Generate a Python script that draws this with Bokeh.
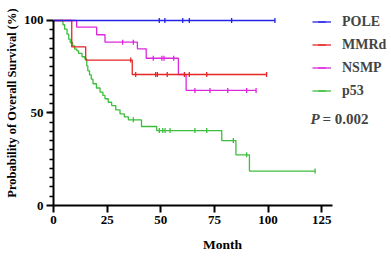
import numpy as np
from bokeh.plotting import figure
from bokeh.models import Range1d, FixedTicker, Legend, LegendItem, Label
from bokeh.embed import file_html
from bokeh.resources import INLINE

# ---- data ----
groups = ["POLE", "MMRd", "NSMP", "p53"]
colors = ["#2424e8", "#e62626", "#dc28dc", "#3cbe3c"]
x_ticks = [0, 25, 50, 75, 100, 125]
y_ticks = [0, 50, 100]

pole_event_t = []
pole_event_s = []
pole_cens_t = [49.3, 51.9, 60.2, 63.3, 83.0, 103.2]

mmrd_event_t = [8.5, 15.0, 36.7]
mmrd_event_s = [85.7, 78.6, 70.8]
mmrd_cens_t = [36.0, 38.3, 47.6, 48.4, 53.0, 61.0, 63.3, 71.4, 99.3]

nsmp_event_t = [10.8, 20.1, 24.0, 39.1, 43.2, 58.2, 61.8]
nsmp_event_s = [96.4, 92.3, 88.3, 84.7, 79.6, 70.8, 62.2]
nsmp_cens_t = [32.2, 37.2, 46.5, 50.5, 51.5, 56.0, 65.9, 72.9, 81.2, 90.0, 94.4]

p53_event_t = [4.4, 5.2, 6.3, 7.1, 7.8, 8.9, 9.9, 10.9, 11.7, 13.3, 14.6, 15.5,
               16.0, 16.8, 17.6, 18.4, 20.0, 21.7, 23.0, 24.0, 25.5, 27.1, 29.0,
               31.0, 33.0, 34.9, 41.0, 48.1, 78.4, 85.0, 91.3]
p53_event_s = [97.7, 95.3, 92.6, 89.9, 88.1, 86.3, 84.5, 83.6, 82.2, 80.4, 79.2, 75.5,
               72.8, 70.6, 68.3, 65.8, 63.5, 61.3, 59.5, 57.7, 55.8, 54.0, 51.7,
               49.5, 47.9, 46.3, 42.7, 40.5, 35.1, 27.4, 18.6]
p53_cens_t = [37.2, 49.3, 50.9, 52.0, 54.3, 65.9, 71.4, 83.8, 90.0, 121.9]

series = {
    "POLE": (pole_event_t, pole_event_s, pole_cens_t),
    "MMRd": (mmrd_event_t, mmrd_event_s, mmrd_cens_t),
    "NSMP": (nsmp_event_t, nsmp_event_s, nsmp_cens_t),
    "p53": (p53_event_t, p53_event_s, p53_cens_t),
}


def surv_at(t, ev_t, ev_s):
    s = 100.0
    for et, es in zip(ev_t, ev_s):
        if et <= t:
            s = es
    return s


FONT = "Liberation Serif"

p = figure(width=391, height=257, x_range=Range1d(0, 157.5), y_range=Range1d(0, 110.8),
           output_backend="svg", toolbar_location=None,
           min_border_left=53, min_border_right=0, min_border_top=0, min_border_bottom=52)
p.outline_line_color = None
p.grid.visible = False
p.background_fill_color = "white"

renderers = {}
for g, c in reversed(list(zip(groups, colors))):
    ev_t, ev_s, cs_t = series[g]
    end_t = max(cs_t + ev_t)
    xs = [0] + list(ev_t) + [end_t]
    ys = [100] + list(ev_s) + [ev_s[-1] if ev_s else 100]
    lr = p.step(xs, ys, mode="after", line_color=c, line_width=1.3)
    cy = [surv_at(t, ev_t, ev_s) for t in cs_t]
    sr = p.scatter(cs_t, cy, marker="dash", angle=np.pi / 2, size=5,
                   line_color=c, line_width=1.3)
    renderers[g] = [lr, sr]

for ax in (p.xaxis[0], p.yaxis[0]):
    ax.axis_line_width = 2
    ax.axis_line_color = "black"
    ax.major_tick_line_width = 2
    ax.major_tick_in = 0
    ax.major_tick_out = 7
    ax.major_label_text_font = FONT
    ax.major_label_text_font_style = "bold"
    ax.major_label_text_font_size = "13px"
    ax.major_label_text_color = "black"
    ax.axis_label_text_font = FONT
    ax.axis_label_text_font_style = "bold"
    ax.axis_label_text_color = "black"

p.xaxis.ticker = FixedTicker(ticks=x_ticks)
p.xaxis.bounds = (0, 130)
p.xaxis.minor_tick_line_color = None
p.xaxis.major_label_standoff = 3
p.xaxis.axis_label = "Month"
p.xaxis.axis_label_text_font_size = "13.5px"
p.xaxis.axis_label_standoff = 10

p.yaxis.ticker = FixedTicker(ticks=y_ticks, minor_ticks=list(range(5, 100, 5)))
p.yaxis.bounds = (0, 100)
p.yaxis.minor_tick_in = 0
p.yaxis.minor_tick_out = 4
p.yaxis.minor_tick_line_width = 1.5
p.yaxis.minor_tick_line_color = "black"
p.yaxis.major_label_standoff = 3
p.yaxis.axis_label = "Probability of Overall Survival (%)"
p.yaxis.axis_label_text_font_size = "12.5px"
p.yaxis.axis_label_standoff = 2

legend = Legend(items=[LegendItem(label=g, renderers=renderers[g]) for g in groups],
                location=(259, 105), orientation="vertical",
                glyph_width=19, glyph_height=19, label_height=19, label_width=10,
                spacing=4, padding=0, margin=0,
                border_line_color=None, background_fill_alpha=0,
                label_standoff=11, label_text_font=FONT,
                label_text_font_style="bold", label_text_font_size="14px")
p.add_layout(legend)

p.add_layout(Label(x=257, y=87, x_units="screen", y_units="screen", text="P",
                   text_font=FONT, text_font_style="bold italic",
                   text_font_size="15px", text_baseline="middle"))
p.add_layout(Label(x=269, y=87, x_units="screen", y_units="screen", text="= 0.002",
                   text_font=FONT, text_font_style="bold",
                   text_font_size="15px", text_baseline="middle"))

open("out.html", "w").write(file_html(p, INLINE))
